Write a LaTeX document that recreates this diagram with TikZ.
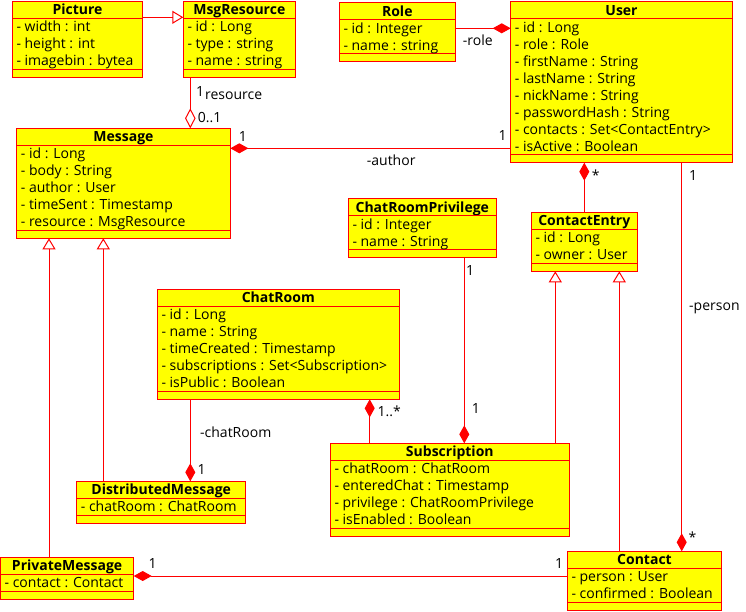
\documentclass[tikz,border=0pt]{standalone}
\usepackage{fontspec}
\setmainfont{Open Sans}
\usetikzlibrary{calc,arrows.meta}

\definecolor{umlred}{RGB}{255,0,0}
\definecolor{umlyellow}{RGB}{255,255,0}
\newcommand{\umlfont}{\fontsize{14pt}{16pt}\selectfont}

\tikzset{
  classbox/.style={draw=umlred, fill=umlyellow, line width=1pt, inner sep=0pt, outer sep=0pt, anchor=north west},
  classtitle/.style={font=\umlfont\bfseries, inner sep=0pt, anchor=base},
  attr/.style={font=\umlfont, inner sep=0pt, anchor=base west},
  lbl/.style={font=\umlfont, inner sep=0pt, anchor=base west},
  link/.style={draw=umlred, line width=1pt},
  compo/.style={link, -{Diamond[length=18pt,width=10pt,fill=umlred]}},
  aggr/.style={link, -{Diamond[open,length=20pt,width=10.5pt]}},
  inherit/.style={link, -{Triangle[open,length=11pt,width=13pt]}}
}

% name, x, y, width, rows, title, attributes
\newcommand{\umlclass}[7]{%
  \pgfmathsetmacro{\clsh}{17*(#5+1)+8}
  \node[classbox, minimum width=#4pt, minimum height=\clsh pt] (#1) at (#2,#3) {};
  \node[classtitle] (#1-title) at ($(#1.north)+(0,13.5)$) {#6};
  \draw[umlred, line width=1pt] ($(#1.north west)+(0,17)$) -- ++(#4,0);
  \draw[umlred, line width=1pt] ($(#1.north west)+(0,{17*(#5+1)})$) -- ++(#4,0);
  \foreach \attr [count=\k] in {#7}
    \node[attr] (#1-\k) at ($(#1.north west)+(4,{17*\k+13.3})$) {\attr};
}

\begin{document}
\begin{tikzpicture}[x=1pt, y=-1pt]
  \useasboundingbox (0,0) rectangle (746,611);

  \umlclass{picture}{12.3}{1.3}{130.4}{3}{Picture}{- width : int, - height : int, - imagebin : bytea}
  \umlclass{msgres}{183.3}{1.3}{112}{3}{MsgResource}{- id : Long, - type : string, - name : string}
  \umlclass{role}{339.3}{2.7}{116}{2}{Role}{- id : Integer, - name : string}
  \umlclass{user}{510.7}{1.7}{221.6}{8}{User}{- id : Long, - role : Role, - firstName : String, - lastName : String, - nickName : String, - passwordHash : String, - contacts : Set<ContactEntry>, - isActive : Boolean}
  \umlclass{message}{16.7}{128.3}{213.6}{5}{Message}{- id : Long, - body : String, - author : User, - timeSent : Timestamp, - resource : MsgResource}
  \umlclass{crp}{348.3}{198.7}{148}{2}{ChatRoomPrivilege}{- id : Integer, - name : String}
  \umlclass{centry}{531.3}{212.3}{106}{2}{ContactEntry}{- id : Long, - owner : User}
  \umlclass{chatroom}{157.3}{289.3}{242}{5}{ChatRoom}{- id : Long, - name : String, - timeCreated : Timestamp, - subscriptions : Set<Subscription>, - isPublic : Boolean}
  \umlclass{dmsg}{76.7}{481.3}{169}{1}{DistributedMessage}{- chatRoom : ChatRoom}
  \umlclass{pmsg}{0.5}{557.3}{133.2}{1}{PrivateMessage}{- contact : Contact}
  \umlclass{subscr}{330.3}{443.3}{239}{4}{Subscription}{- chatRoom : ChatRoom, - enteredChat : Timestamp, - privilege : ChatRoomPrivilege, - isEnabled : Boolean}
  \umlclass{contact}{567.3}{551.3}{154.4}{2}{Contact}{- person : User, - confirmed : Boolean}

  % generalizations
  \draw[inherit] ([yshift=-16pt]picture.north east) -- ([yshift=-16pt]msgres.north west);
  \draw[inherit] ([xshift=48.5pt]pmsg.north west) -- ([xshift=32.3pt]message.south west);
  \draw[inherit] ([xshift=26.6pt]dmsg.north west) -- ([xshift=86.6pt]message.south west);
  \draw[inherit] ([xshift=225pt]subscr.north west) -- ([xshift=24pt]centry.south west);
  \draw[inherit] ([xshift=52pt]contact.north west) -- ([xshift=88pt]centry.south west);

  % aggregation and compositions
  \draw[aggr] ([xshift=7pt]msgres.south west) -- ([xshift=173.6pt]message.north west);
  \draw[compo] ([yshift=-25.6pt]role.north east) -- ([yshift=-26.6pt]user.north west);
  \draw[compo] ([yshift=-146.6pt]user.north west) -- ([yshift=-20pt]message.north east);
  \draw[compo] ([xshift=53pt]centry.north west) -- ([xshift=73.6pt]user.south west);
  \draw[compo] ([xshift=171pt]user.south west) -- ([xshift=114.4pt]contact.north west);
  \draw[compo] ([xshift=33pt]chatroom.south west) -- ([xshift=113.6pt]dmsg.north west);
  \draw[compo] ([xshift=39.4pt]subscr.north west) -- ([xshift=212.4pt]chatroom.south west);
  \draw[compo] ([xshift=116pt]crp.south west) -- ([xshift=134pt]subscr.north west);
  \draw[compo] ([yshift=-24.7pt]contact.north west) -- ([yshift=-18.7pt]pmsg.north east);

  % roles and multiplicities
  \foreach \px/\py/\txt [count=\n] in {196/96/1, 205/99.3/resource, 197.7/122/0..1,
      238.7/141.3/1, 366.7/165.7/-author, 498.3/140.7/1, 462.7/45.5/-role,
      591.7/180/*, 689/180/1, 466/275/1, 689/310/-person, 471.7/413.3/1,
      377.5/416/1..*, 688.3/542/*, 555/568.7/1, 148.3/568.7/1,
      200/437.3/-chatRoom, 197.3/474/1}
    \node[lbl] (lbl\n) at (\px,\py) {\txt};
\end{tikzpicture}
\end{document}
